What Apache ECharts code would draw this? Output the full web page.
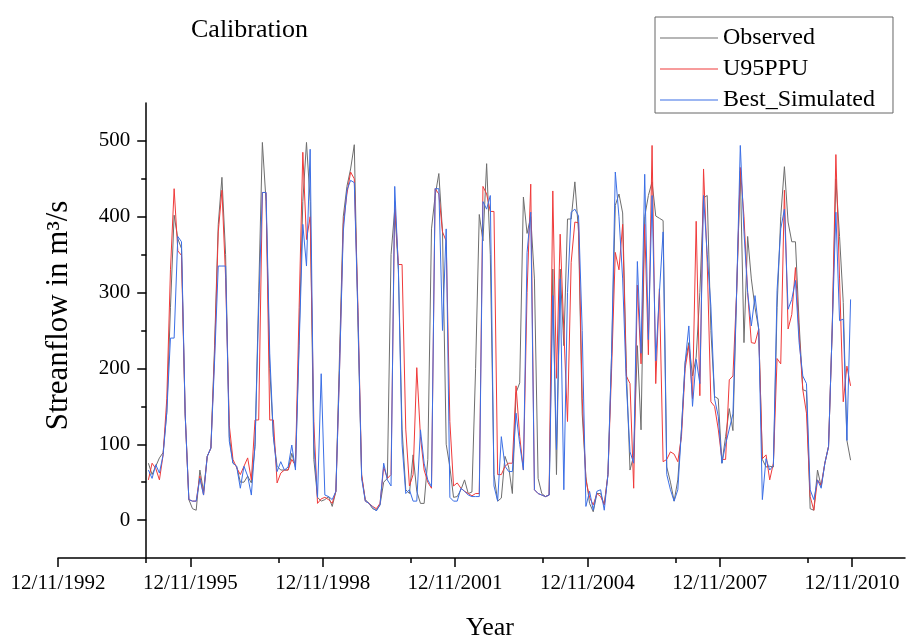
<!DOCTYPE html>
<html>
<head>
<meta charset="utf-8">
<script src="https://cdn.jsdelivr.net/npm/echarts@6/dist/echarts.min.js"></script>
<style>
  html, body { margin: 0; background: #fff; }
  #chart { width: 909px; height: 635px; }
</style>
</head>
<body>
<div id="chart"></div>
<script>
// monthly values, Jan 1995 .. Dec 2010 (192 months)
const observed = [
  75, 60, 71, 82, 89, 142, 280, 402, 371, 358, 140, 27,
  15, 13, 66, 38, 84, 95, 230, 390, 452, 350, 110, 75,
  71, 50, 50, 58, 49, 97, 300, 498, 420, 200, 110, 71,
  66, 66, 66, 88, 70, 240, 420, 498, 420, 80, 30, 25,
  27, 31, 18, 38, 220, 400, 440, 463, 495, 260, 58, 27,
  22, 15, 13, 20, 50, 55, 350, 410, 330, 120, 40, 35,
  86, 38, 22, 22, 80, 384, 428, 457, 380, 100, 70, 30,
  31, 40, 53, 35, 37, 200, 403, 368, 470, 350, 60, 25,
  29, 84, 70, 35, 168, 181, 426, 378, 400, 318, 55, 35,
  31, 33, 331, 60, 331, 230, 397, 397, 446, 380, 140, 57,
  22, 11, 35, 35, 20, 60, 220, 415, 430, 405, 200, 66,
  85, 230, 119, 400, 428, 446, 401, 398, 395, 70, 50, 25,
  53, 120, 208, 234, 190, 215, 300, 425, 428, 250, 163, 160,
  75, 110, 147, 118, 300, 460, 234, 374, 318, 280, 252, 80,
  70, 71, 70, 280, 400, 466, 393, 367, 367, 260, 172, 170,
  15, 13, 66, 44, 75, 97, 252, 450, 374, 287, 105, 79
]
const u95ppu = [
  53, 75, 68, 53, 86, 160, 330, 437, 355, 349, 140, 27,
  25, 25, 58, 33, 84, 95, 220, 380, 435, 320, 125, 80,
  69, 60, 71, 82, 53, 132, 132, 432, 432, 132, 132, 49,
  62, 66, 66, 80, 72, 280, 485, 370, 400, 130, 22, 28,
  30, 27, 22, 38, 200, 390, 430, 459, 450, 280, 60, 25,
  22, 18, 15, 22, 70, 55, 60, 420, 337, 337, 120, 45,
  60, 201, 110, 66, 50, 42, 437, 430, 380, 368, 130, 45,
  49, 42, 38, 35, 32, 35, 35, 440, 430, 407, 407, 60,
  60, 71, 75, 75, 177, 110, 66, 300, 443, 40, 35, 33,
  31, 33, 434, 187, 377, 250, 130, 340, 393, 392, 160, 53,
  30, 20, 35, 31, 20, 60, 200, 353, 330, 390, 190, 180,
  42, 310, 206, 390, 218, 494, 180, 305, 77, 80, 90, 87,
  77, 110, 200, 230, 160, 394, 164, 463, 340, 156, 150, 120,
  80, 80, 185, 190, 300, 465, 400, 300, 234, 233, 252, 81,
  86, 53, 75, 213, 206, 435, 252, 271, 333, 245, 172, 141,
  31, 13, 53, 46, 75, 97, 252, 482, 318, 156, 203, 177
]
const bestSimulated = [
  66, 55, 73, 62, 86, 142, 240, 240, 374, 367, 140, 27,
  25, 25, 55, 33, 84, 95, 210, 335, 335, 335, 104, 75,
  71, 42, 71, 58, 33, 100, 280, 432, 432, 220, 110, 64,
  77, 66, 70, 99, 66, 230, 390, 335, 489, 100, 30, 193,
  33, 31, 27, 38, 200, 380, 435, 448, 445, 270, 55, 25,
  22, 17, 12, 20, 75, 53, 45, 440, 330, 100, 35, 40,
  25, 25, 119, 75, 53, 44, 437, 437, 250, 384, 30, 25,
  25, 42, 38, 33, 31, 31, 31, 420, 410, 428, 45, 25,
  110, 71, 64, 64, 141, 100, 66, 353, 406, 40, 35, 33,
  31, 33, 296, 93, 318, 40, 300, 406, 410, 401, 250, 18,
  38, 13, 38, 40, 13, 60, 220, 459, 400, 318, 180, 90,
  75, 341, 220, 456, 238, 428, 210, 300, 380, 60, 40, 25,
  40, 119, 208, 256, 150, 212, 180, 428, 350, 282, 160, 137,
  75, 100, 120, 140, 300, 494, 380, 300, 256, 296, 252, 27,
  81, 66, 72, 303, 384, 410, 278, 291, 316, 234, 190, 180,
  40, 27, 53, 42, 75, 97, 252, 406, 263, 265, 105, 291
]
// x axis is in years counted from 12/11/1992
const firstMonth = 2.05
const xTicks = [0, 3, 6, 9, 12, 15, 18]
const xMinorTicks = [2, 5, 8, 11, 14, 17]
const yTicks = [0, 100, 200, 300, 400, 500]
const yMinorTicks = [50, 150, 250, 350, 450]

const font = '"Liberation Serif", "Times New Roman", serif'
const toPairs = arr => arr.map((v, i) => [firstMonth + i / 12, v])

const chart = echarts.init(document.getElementById('chart'))
chart.setOption({
  animation: false,
  backgroundColor: '#fff',
  title: {
    text: 'Calibration',
    left: 186,
    top: 12,
    textStyle: { fontFamily: font, fontSize: 26, fontWeight: 'normal', color: '#000' }
  },
  legend: {
    orient: 'vertical',
    left: 655,
    top: 17,
    icon: 'rect',
    itemWidth: 58,
    itemHeight: 1.2,
    itemGap: 7,
    padding: [9, 18, 1, 5],
    borderColor: '#666',
    borderWidth: 1,
    textStyle: { fontFamily: font, fontSize: 24, color: '#000' },
    data: ['Observed', 'U95PPU', 'Best_Simulated']
  },
  grid: [
    { left: 58, right: 4, top: 103, bottom: 77, outerBoundsMode: 'none' },
    { left: 146.2, right: 4, top: 103, bottom: 77, outerBoundsMode: 'none' }
  ],
  xAxis: [{
    gridIndex: 0,
    type: 'value',
    min: 0,
    max: 19.2,
    name: 'Year',
    nameLocation: 'middle',
    nameGap: 57,
    nameTextStyle: { fontFamily: font, fontSize: 26, color: '#000', padding: [0, 0, 0, 17] },
    axisLine: { onZero: false, lineStyle: { color: '#000', width: 1.5 } },
    axisTick: { customValues: xTicks, length: 9, lineStyle: { color: '#000', width: 1.5 } },
    axisLabel: {
      customValues: xTicks,
      margin: 15,
      fontFamily: font,
      fontSize: 21,
      color: '#000',
      formatter: v => '12/11/' + (1992 + Math.round(v))
    },
    splitLine: { show: false }
  }, {
    gridIndex: 1,
    type: 'value',
    min: 2,
    max: 19.2,
    axisLine: { show: false, onZero: false },
    axisTick: { customValues: xMinorTicks, length: 5, lineStyle: { color: '#000', width: 1.5 } },
    axisLabel: { show: false },
    splitLine: { show: false }
  }],
  yAxis: [{
    gridIndex: 1,
    type: 'value',
    position: 'left',
    min: -50,
    max: 550,
    name: 'Streanflow in m³/s',
    nameLocation: 'middle',
    nameGap: 72,
    nameTextStyle: { fontFamily: font, fontSize: 31, color: '#000', padding: [0, 0, 0, 30] },
    axisLine: { show: true, onZero: false, lineStyle: { color: '#000', width: 1.5 } },
    axisTick: { show: true, customValues: yTicks, length: 9, lineStyle: { color: '#000', width: 1.5 } },
    axisLabel: { customValues: yTicks, margin: 16, fontFamily: font, fontSize: 21, color: '#000' },
    splitLine: { show: false }
  }, {
    gridIndex: 1,
    type: 'value',
    position: 'left',
    min: -50,
    max: 550,
    axisLine: { show: false, onZero: false },
    axisTick: { show: true, customValues: yMinorTicks, length: 5, lineStyle: { color: '#000', width: 1.5 } },
    axisLabel: { show: false },
    splitLine: { show: false }
  }, {
    // the label axis grid needs a y axis of its own
    gridIndex: 0,
    type: 'value',
    min: 0,
    max: 1,
    show: false
  }],
  series: [{
    name: 'Observed',
    type: 'line',
    xAxisIndex: 1,
    yAxisIndex: 0,
    symbol: 'none',
    color: '#6e6e6e',
    lineStyle: { width: 1 },
    data: toPairs(observed)
  }, {
    name: 'U95PPU',
    type: 'line',
    xAxisIndex: 1,
    yAxisIndex: 0,
    symbol: 'none',
    color: '#f03a3a',
    lineStyle: { width: 1 },
    data: toPairs(u95ppu)
  }, {
    name: 'Best_Simulated',
    type: 'line',
    xAxisIndex: 1,
    yAxisIndex: 0,
    symbol: 'none',
    color: '#3b6fe6',
    lineStyle: { width: 1 },
    data: toPairs(bestSimulated)
  }]
})
</script>
</body>
</html>
